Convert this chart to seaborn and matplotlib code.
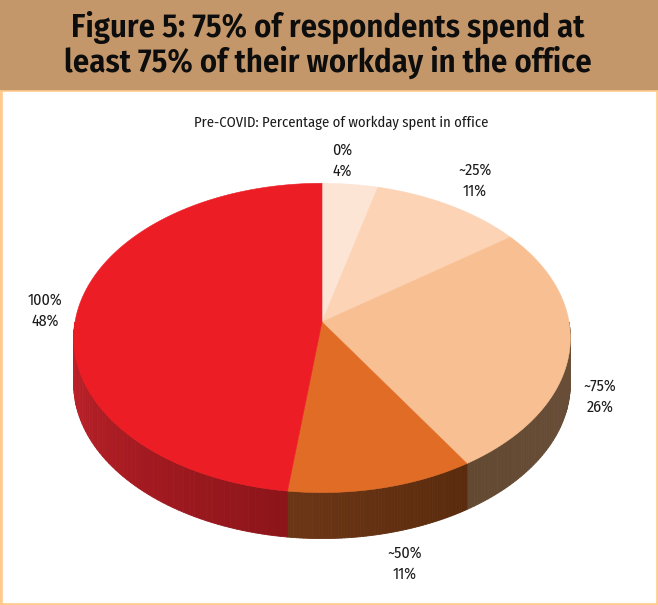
import numpy as np
import matplotlib
matplotlib.use("Agg")
import matplotlib.pyplot as plt
from matplotlib.patches import Rectangle, Polygon
import seaborn as sns

# ---- data -------------------------------------------------------------
categories = ["0%", "~25%", "~75%", "~50%", "100%"]
shares = [4, 11, 26, 11, 48]          # percent of respondents
title = "Figure 5: 75% of respondents spend at\nleast 75% of their workday in the office"
subtitle = "Pre-COVID: Percentage of workday spent in office"

# ---- style ------------------------------------------------------------
top_colors = ["#FDE5D6", "#FCD3B5", "#F8C092", "#E16C26", "#EC1D25"]
side_colors = [("#8a6a50", "#8a6a50"), ("#7a5a40", "#7a5a40"),
               ("#6A4F39", "#634932"), ("#5A2B0D", "#6C3616"),
               ("#8C151A", "#C3222A")]   # (front colour, far-left colour)
banner_color = "#C4976B"
frame_color = "#FFCA8C"

sns.set_theme(style="white")
plt.rcParams["font.family"] = ["Fira Sans Condensed", "DejaVu Sans"]

W, H = 658, 605
fig = plt.figure(figsize=(W / 100, H / 100), dpi=100)
ax = fig.add_axes([0, 0, 1, 1])
ax.set_xlim(0, W)
ax.set_ylim(H, 0)
ax.axis("off")

# frame and header banner
ax.add_patch(Rectangle((0, 0), W, H, color=frame_color, zorder=0))
ax.add_patch(Rectangle((0, 0), W, 89, color=banner_color, zorder=1))
ax.add_patch(Rectangle((2.5, 91.5), W - 6, H - 94.5, color="white", zorder=1))

ax.text(W / 2 - 1, 45, title, ha="center", va="center", fontsize=23.5,
        fontweight=600, color="#0d0d0d", linespacing=1.08, zorder=5)
ax.text(341, 123, subtitle, ha="center", va="center", fontsize=10.5,
        color="#1a1a1a", zorder=5)

# ---- perspective pie geometry ------------------------------------------
cx, cy = 322, 322      # projected centre
rx, ry = 247, 153      # radii of the disc
k = 0.103              # perspective strength (back edge smaller)
depth = 46             # thickness of the disc


def project(t):
    s = 1.0 / (1.0 + k * np.sin(t))
    return cx + rx * np.cos(t) * s, cy - ry * np.sin(t) * s


fractions = np.array(shares, dtype=float) / np.sum(shares)
bounds = np.pi / 2 - 2 * np.pi * np.concatenate([[0], np.cumsum(fractions)])

# side walls (only the front half, -pi .. 0, is visible)
for i in range(len(shares)):
    seg_hi = min(bounds[i], 0.0)
    seg_lo = max(bounds[i + 1], -np.pi)
    if seg_hi <= seg_lo:
        continue
    c_front = np.array(matplotlib.colors.to_rgb(side_colors[i][0]))
    c_left = np.array(matplotlib.colors.to_rgb(side_colors[i][1]))
    n = 60
    ts = np.linspace(seg_hi, seg_lo, n + 1)
    for j in range(n):
        t1, t2 = ts[j], ts[j + 1]
        w = (j + 0.5) / n
        col = c_front * (1 - w) + c_left * w
        x1, y1 = project(t1)
        x2, y2 = project(t2)
        ax.add_patch(Polygon([(x1, y1), (x2, y2), (x2, y2 + depth), (x1, y1 + depth)],
                             closed=True, facecolor=col, edgecolor=col,
                             linewidth=0.6, zorder=2))

# top surface
for i in range(len(shares)):
    ts = np.linspace(bounds[i], bounds[i + 1], 200)
    xs, ys = project(ts)
    pts = [(cx, cy)] + list(zip(xs, ys))
    ax.add_patch(Polygon(pts, closed=True, facecolor=top_colors[i],
                         edgecolor=top_colors[i], linewidth=0.4, zorder=3))

# category labels
label_pos = [(342, 161), (475, 181), (600, 397), (405, 564), (45, 311)]
for cat, val, (lx, ly) in zip(categories, shares, label_pos):
    ax.text(lx, ly, f"{cat}\n{val}%", ha="center", va="center",
            fontsize=11.5, color="#1a1a1a", linespacing=1.4, zorder=5)

fig.savefig("out.png", dpi=100)
